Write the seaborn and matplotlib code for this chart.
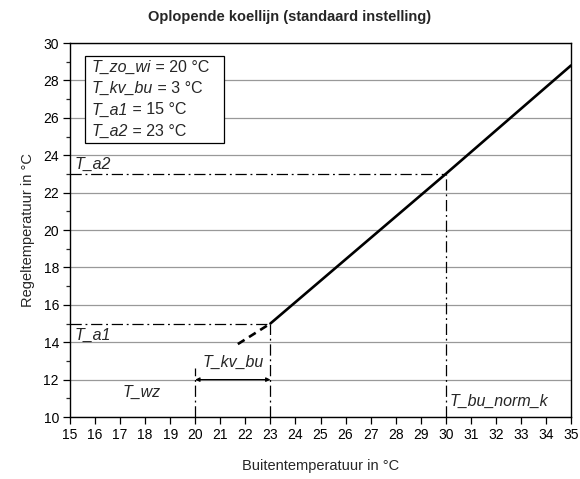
import pandas as pd
import seaborn as sns
import matplotlib.pyplot as plt
from matplotlib.patches import Rectangle

# koellijn (solid part) and the dashed start below T_a1
line_x = [23, 30, 35]
line_y = [15, 23, 28.8]
dash_x = [21.7, 23]
dash_y = [13.9, 15]

T_a1 = 15
T_a2 = 23
T_wz = 20
T_kv_end = 23
T_bu_norm_k = 30

settings = ["T_zo_wi", "T_kv_bu", "T_a1", "T_a2"]
setting_vals = [" = 20 °C", " = 3 °C", " = 15 °C", " = 23 °C"]

sns.set_theme(style="white")
plt.rcParams["font.family"] = ["Liberation Sans", "DejaVu Sans"]

fig = plt.figure(figsize=(5.8, 4.79), dpi=100)
ax = fig.add_axes([0.1207, 0.1294, 0.8638, 0.7808])

df = pd.DataFrame({"x": line_x, "y": line_y})
sns.lineplot(data=df, x="x", y="y", ax=ax, color="black", linewidth=1.9, zorder=5)
ax.plot(dash_x, dash_y, color="black", linewidth=1.9, linestyle=(0, (3, 2)), zorder=5)

dd = (0, (9, 3, 1.5, 3))
lw = 0.9
ax.plot([15, T_kv_end], [T_a1, T_a1], color="black", lw=lw, ls=dd)
ax.plot([T_kv_end, T_kv_end], [10, T_a1], color="black", lw=lw, ls=dd)
ax.plot([15, T_bu_norm_k], [T_a2, T_a2], color="black", lw=lw, ls=dd)
ax.plot([T_bu_norm_k, T_bu_norm_k], [10, T_a2], color="black", lw=lw, ls=dd)
ax.plot([T_wz, T_wz], [10, 12.6], color="black", lw=lw, ls=dd)
ax.annotate("", xy=(T_wz, 12), xytext=(T_kv_end, 12),
            arrowprops=dict(arrowstyle="<|-|>", color="black", lw=0.9,
                            mutation_scale=6, shrinkA=0, shrinkB=0))

fs = 11.5
ax.text(15.2, 23.1, "T_a2", style="italic", fontsize=fs, va="bottom")
ax.text(15.2, 14.75, "T_a1", style="italic", fontsize=fs, va="top")
ax.text(17.85, 11.3, "T_wz", style="italic", fontsize=fs, ha="center", va="center")
ax.text(21.5, 12.9, "T_kv_bu", style="italic", fontsize=fs, ha="center", va="center")
ax.text(30.15, 10.85, "T_bu_norm_k", style="italic", fontsize=fs, va="center")

# settings box
box = Rectangle((0.03, 0.733), 0.277, 0.232, transform=ax.transAxes,
                facecolor="white", edgecolor="black", lw=0.9, zorder=6)
ax.add_patch(box)
for i, (name, val) in enumerate(zip(settings, setting_vals)):
    t = ax.text(0.044, 0.935 - i * 0.057, name, transform=ax.transAxes,
                fontsize=fs, style="italic", va="center", zorder=7)
    ax.annotate(val, xy=(1, 0.5), xycoords=t, fontsize=fs, va="center", zorder=7)

ax.set_xlim(15, 35)
ax.set_ylim(10, 30)
ax.set_xticks(range(15, 36))
ax.set_yticks(range(10, 31, 2))
ax.set_yticks(range(11, 30, 2), minor=True)
ax.yaxis.grid(True, color="#999999", linewidth=0.9)
ax.set_axisbelow(True)
ax.tick_params(axis="both", which="major", direction="out", length=5, width=0.9,
               labelsize=10, colors="black", left=True, bottom=True, pad=3)
ax.tick_params(axis="y", which="minor", direction="out", length=3, width=0.9, left=True)
for s in ax.spines.values():
    s.set_color("black")
    s.set_linewidth(1.0)

ax.set_xlabel("Buitentemperatuur in °C", fontsize=10.5, labelpad=12)
ax.set_ylabel("Regeltemperatuur in °C", fontsize=10.5, labelpad=6)
fig.text(0.5, 0.965, "Oplopende koellijn (standaard instelling)", fontsize=10.5,
         fontweight="bold", ha="center", va="center")

fig.savefig("out.png", dpi=100)
